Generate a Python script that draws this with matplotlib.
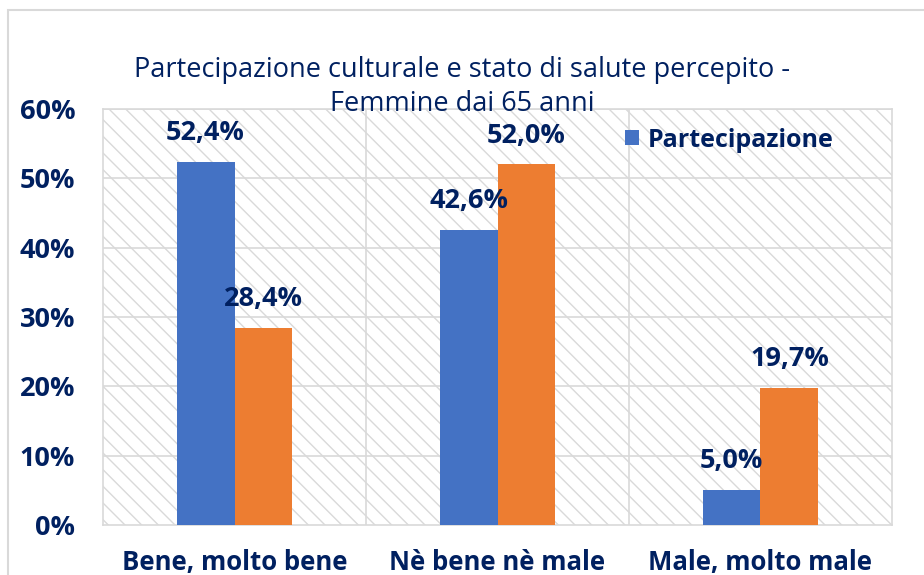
import numpy as np
import matplotlib
matplotlib.use('Agg')
import matplotlib.pyplot as plt
from matplotlib.patches import Rectangle

categorie = ['Bene, molto bene', 'Nè bene nè male', 'Male, molto male']
partecipazione = [52.4, 42.6, 5.0]
salute = [28.4, 52.0, 19.7]
etichette_y = ['0%', '10%', '20%', '30%', '40%', '50%', '60%']

navy = '#002060'
blu = '#4472C4'
arancio = '#ED7D31'
grigio = '#d9d9d9'

plt.rcParams['font.family'] = ['Open Sans', 'DejaVu Sans']
plt.rcParams['hatch.color'] = grigio
plt.rcParams['hatch.linewidth'] = 1.0

fig = plt.figure(figsize=(9.24, 5.75), dpi=100)
ax = fig.add_axes([103/924, 1-525/575, (892-103)/924, (525-109)/575])

# cornice esterna del grafico
fig.patches.append(Rectangle((8/924, -0.1), 1.0, 1.1 - 10/575, transform=fig.transFigure,
                             fill=False, edgecolor=grigio, linewidth=1.5))

ax.add_patch(Rectangle((0, 0), 1, 1, transform=ax.transAxes, facecolor='white',
                       hatch='\\\\', edgecolor=grigio, linewidth=0, zorder=0))

x = np.arange(len(categorie))
w = 0.22
b1 = ax.bar(x - w/2, partecipazione, w, color=blu, label='Partecipazione', zorder=3)
b2 = ax.bar(x + w/2, salute, w, color=arancio, label='Salute', zorder=3)

for barre, valori in [(b1, partecipazione), (b2, salute)]:
    for r, v in zip(barre, valori):
        ax.text(r.get_x() + r.get_width()/2, v + 2.3, f'{v:.1f}%'.replace('.', ','),
                ha='center', va='bottom', fontsize=19.5, fontweight='bold', color=navy, zorder=4)

ax.set_xlim(-0.5, 2.5)
ax.set_ylim(0, 60)
ax.set_yticks(np.arange(0, 61, 10))
ax.set_yticklabels(etichette_y, fontsize=19.5, fontweight='bold', color=navy)
ax.set_xticks(x)
ax.set_xticklabels(categorie, fontsize=18.5, fontweight='bold', color=navy)
ax.tick_params(length=0)
ax.tick_params(axis='y', pad=20)
ax.tick_params(axis='x', pad=17)

for yy in range(10, 61, 10):
    ax.axhline(yy, color=grigio, linewidth=1.2, zorder=1)
for xx in [0.5, 1.5]:
    ax.axvline(xx, color=grigio, linewidth=1.2, zorder=1)
for s in ax.spines.values():
    s.set_color(grigio)
    s.set_linewidth(1.2)

fig.text(0.5, 1-87/575, 'Partecipazione culturale e stato di salute percepito -\nFemmine dai 65 anni',
         ha='center', va='center', fontsize=19.5, color=navy, linespacing=1.3, zorder=5)

leg = ax.legend(handles=[b1], loc='center left', bbox_to_anchor=(0.662, 0.925), frameon=False,
                prop={'size': 18, 'weight': 'bold'}, handlelength=0.55, handleheight=0.55,
                handletextpad=0.35, borderpad=0, borderaxespad=0)
for t in leg.get_texts():
    t.set_color(navy)

fig.savefig('out.png', dpi=100)
